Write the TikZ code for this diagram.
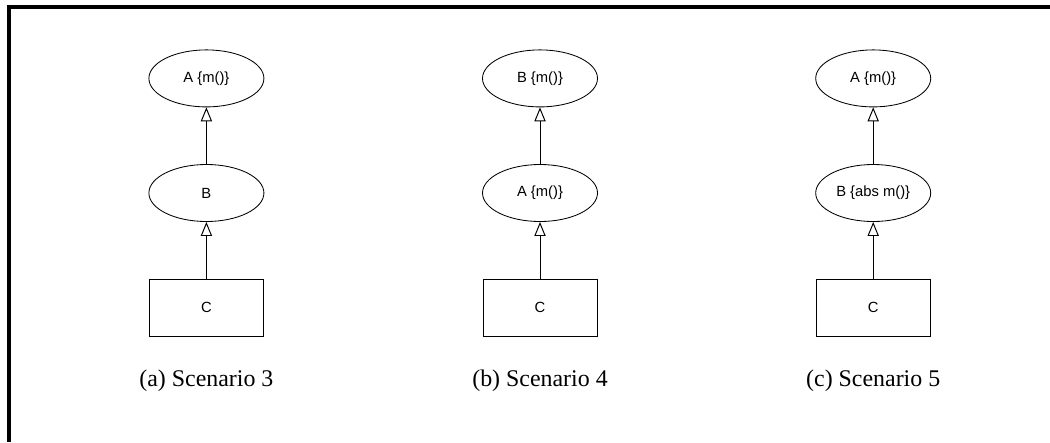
\documentclass[tikz,border=0pt]{standalone}
\usepackage{fontspec}
\setmainfont{Liberation Serif}
\setsansfont{Liberation Sans}
\usetikzlibrary{arrows.meta,positioning,shapes.geometric}
\tikzset{
  cls/.style      = {draw, ellipse, line width=0.6pt, inner sep=0pt,
                     minimum width=2.875cm, minimum height=1.425cm,
                     font=\sffamily\fontsize{10.5}{12}\selectfont},
  concrete/.style = {draw, rectangle, line width=0.6pt, inner sep=0pt,
                     minimum width=2.85cm, minimum height=1.425cm,
                     font=\sffamily\fontsize{10.5}{12}\selectfont},
  inherit/.style  = {-{Triangle[open, length=10pt, width=8pt]}, line width=0.7pt},
  subcap/.style   = {font=\fontsize{17}{20}\selectfont, inner sep=0pt},
  frameline/.style= {line width=2.2pt},
}
\begin{document}
\begin{tikzpicture}
  \useasboundingbox (0,0) rectangle (26.25,-11.05);

  % ---------- frame -------------------------------------------------------
  \draw[frameline] (0.225,-11.05) -- (0.225,-0.175) -- (26.25,-0.175);

  % ---------- (a) scenario 3 ----------------------------------------------
  \node[cls]      (a1) at ( 5.16,-1.96) {A \{m()\}};
  \node[cls]      (a2) at ( 5.16,-4.825) {B};
  \node[concrete] (a3) at ( 5.16,-7.69) {C};
  \node[subcap]   (acap) at ( 5.16,-9.525) {(a) Scenario 3};

  % ---------- (b) scenario 4 ----------------------------------------------
  \node[cls]      (b1) at (13.5,-1.96) {B \{m()\}};
  \node[cls]      (b2) at (13.5,-4.825) {A \{m()\}};
  \node[concrete] (b3) at (13.5,-7.69) {C};
  \node[subcap]   (bcap) at (13.5,-9.525) {(b) Scenario 4};

  % ---------- (c) scenario 5 ----------------------------------------------
  \node[cls]      (c1) at (21.83,-1.96) {A \{m()\}};
  \node[cls]      (c2) at (21.83,-4.825) {B \{abs m()\}};
  \node[concrete] (c3) at (21.83,-7.69) {C};
  \node[subcap]   (ccap) at (21.83,-9.525) {(c) Scenario 5};

  % ---------- connectors --------------------------------------------------
  \draw[inherit] (a2.north) -- (a1.south);
  \draw[inherit] (a3.north) -- (a2.south);
  \draw[inherit] (b2.north) -- (b1.south);
  \draw[inherit] (b3.north) -- (b2.south);
  \draw[inherit] (c2.north) -- (c1.south);
  \draw[inherit] (c3.north) -- (c2.south);

\end{tikzpicture}
\end{document}
